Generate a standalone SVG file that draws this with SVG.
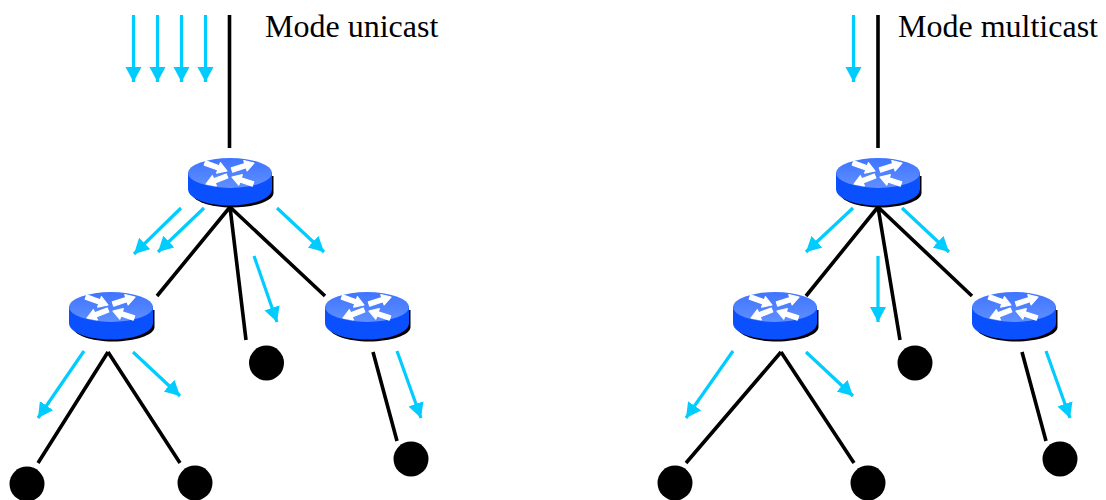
<svg xmlns="http://www.w3.org/2000/svg" width="1106" height="500" viewBox="0 0 1106 500">
<style>
.k{stroke:#000;stroke-width:3.6;fill:none}
.b{stroke:#00ccff;stroke-width:3.2;fill:none;marker-end:url(#ah)}
.t{font-family:"Liberation Serif","Times New Roman",serif;font-size:32px;fill:#000}
</style>
<defs>
<marker id="ah" markerUnits="userSpaceOnUse" markerWidth="18" markerHeight="18" refX="15" refY="8" orient="auto"><path d="M0 0L15 8L0 16Z" fill="#00ccff"/></marker>
<linearGradient id="g" x1="0" y1="0" x2="0" y2="1"><stop offset="0" stop-color="#3f74ff"/><stop offset="1" stop-color="#5f8fff"/></linearGradient>
<symbol id="router" overflow="visible" viewBox="0 0 1 1" width="1" height="1">
<path d="M-38 4V19C-38 27-20 33.500 2 33.500S43.500 27 43.500 19V2Z" fill="#000"/>
<path d="M-42 -2V15C-42 25-22 31.500 0 31.500S42 25 42 15V-2Z" fill="#0a50ff"/>
<ellipse cx="0" cy="-1" rx="42" ry="15" fill="url(#g)"/>
<g fill="#fff" stroke="#fff" stroke-width="1.200" stroke-linejoin="round">
<path d="M-24.250-13.070L-10.750-8.170L-9.600-11.300L-3-3L-13.400-.9L-12.250-4.030L-25.750-8.930Z"/>
<path d="M1.340-6.100L14.800-10.400L13.800-13.500L24-11L17.100-3.100L16.100-6.200L2.660-1.900Z"/>
<path d="M-3.800-.05L-16.400 4.750L-17.600 1.700L-24 10L-13.600 11.900L-14.800 8.850L-2.200 4.050Z"/>
<path d="M23.700 7.900L11.250 3.800L12.300.7L2 3L8.800 11.100L9.850 8L22.300 12.100Z"/>
</g>
</symbol>
</defs>
<g id="connectors">
<path class="k" d="M229.500 15V148M230 207L157 296M230 207L246 340M230 207L325 296M108 352L38 463M108 352L180 463M373 352L397 441"/>
<path class="k" d="M878 15V148M878 207L806 296M878 207L900 340M878 207L972 296M781 352L686 463M781 352L854 463M1022 352L1046 441"/>
<path class="b" d="M133.500 15V82"/><path class="b" d="M157.500 15V82"/><path class="b" d="M181.500 15V82"/><path class="b" d="M205.500 15V82"/>
<path class="b" d="M181 208L134 254"/><path class="b" d="M204 208L158 252"/><path class="b" d="M277 208L324 252"/><path class="b" d="M254 256L277 322"/>
<path class="b" d="M84 351L38 418"/><path class="b" d="M133 352L180 396"/><path class="b" d="M397 351L421 418"/>
<path class="b" d="M853.500 15V82"/><path class="b" d="M853 208L806 252"/><path class="b" d="M902 208L949 252"/><path class="b" d="M878 256V322"/>
<path class="b" d="M733 351L686 418"/><path class="b" d="M806 352L853 396"/><path class="b" d="M1046 351L1070 418"/>
</g>
<g id="r1"><use href="#router" x="230" y="174"/></g>
<g id="r2"><use href="#router" x="111" y="308"/></g>
<g id="r3"><use href="#router" x="367" y="308"/></g>
<g id="r4"><use href="#router" x="878" y="174"/></g>
<g id="r5"><use href="#router" x="775" y="308"/></g>
<g id="r6"><use href="#router" x="1014" y="308"/></g>
<g id="h1"><circle cx="27" cy="484" r="17.500"/></g>
<g id="h2"><circle cx="195" cy="483" r="17.500"/></g>
<g id="h3"><circle cx="266.500" cy="363" r="17.500"/></g>
<g id="h4"><circle cx="411" cy="459" r="17.500"/></g>
<g id="h5"><circle cx="675" cy="483" r="17.500"/></g>
<g id="h6"><circle cx="868" cy="483" r="17.500"/></g>
<g id="h7"><circle cx="915" cy="363" r="17.500"/></g>
<g id="h8"><circle cx="1060" cy="459" r="17.500"/></g>
<text class="t" x="265" y="37">Mode unicast</text>
<text class="t" x="898" y="37">Mode multicast</text>
</svg>
